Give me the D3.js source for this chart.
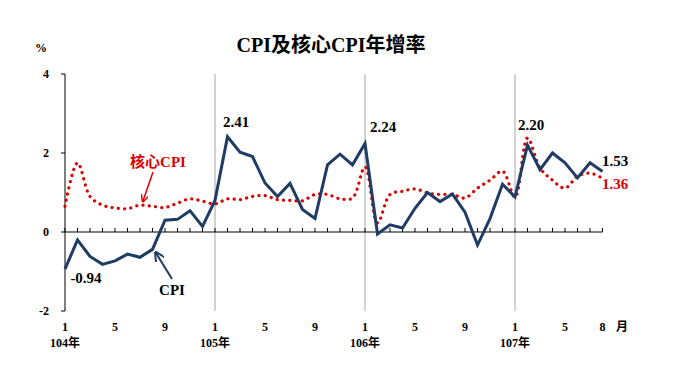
<!DOCTYPE html>
<html>
<head>
<meta charset="utf-8">
<script src="https://cdn.jsdelivr.net/npm/d3@7"></script>
<style>
  body { margin: 0; background: #fff; }
  text { font-family: "Liberation Serif", "Noto Sans CJK TC", serif; font-weight: bold; }
</style>
</head>
<body>
<div id="chart"></div>
<script>
// months 104/1 .. 107/8
var years = ["104年", "105年", "106年", "107年"];
var monthTicks = [1, 5, 9, 13, 17, 21, 25, 29, 33, 37, 41, 44];
var monthLabels = ["1", "5", "9", "1", "5", "9", "1", "5", "9", "1", "5", "8"];

var cpi = [-0.94, -0.20, -0.62, -0.82, -0.73, -0.56, -0.64, -0.44, 0.30, 0.32, 0.54, 0.14,
           0.80, 2.41, 2.02, 1.91, 1.24, 0.90, 1.23, 0.57, 0.34, 1.70, 1.97, 1.70,
           2.24, -0.05, 0.18, 0.10, 0.60, 1.00, 0.77, 0.96, 0.50, -0.33, 0.34, 1.21,
           0.89, 2.20, 1.58, 2.00, 1.75, 1.37, 1.75, 1.53];

var core = [0.65, 1.75, 0.90, 0.68, 0.61, 0.59, 0.68, 0.65, 0.62, 0.73, 0.84, 0.78,
            0.71, 0.84, 0.82, 0.90, 0.92, 0.82, 0.80, 0.79, 0.95, 0.95, 0.84, 0.86,
            1.65, 0.23, 0.95, 1.03, 1.09, 0.99, 0.95, 0.95, 0.86, 1.11, 1.31, 1.54,
            0.88, 2.38, 1.62, 1.31, 1.11, 1.41, 1.49, 1.36];

var yTicks = [-2, 0, 2, 4];

var W = 680, H = 383;
var svg = d3.select("#chart").append("svg")
  .attr("width", W).attr("height", H);

var x = d3.scaleLinear().domain([1, 44]).range([65, 602.5]);
var y = d3.scaleLinear().domain([-2, 4]).range([311, 74]);

// title
svg.append("text")
  .attr("x", 331).attr("y", 52)
  .attr("text-anchor", "middle")
  .style("font-size", "20px")
  .text("CPI及核心CPI年增率");

svg.append("text")
  .attr("x", 41).attr("y", 52)
  .attr("text-anchor", "middle")
  .style("font-size", "12px")
  .text("%");

// year separators
svg.selectAll(".yearline")
  .data([13, 25, 37])
  .enter().append("line")
  .attr("x1", x).attr("x2", x)
  .attr("y1", y(4)).attr("y2", y(-2))
  .style("stroke", "#a6a6a6")
  .style("stroke-width", 1);

// y axis
svg.append("line")
  .attr("x1", x(1)).attr("x2", x(1))
  .attr("y1", y(4)).attr("y2", y(-2))
  .style("stroke", "#000").style("stroke-width", 1);

svg.selectAll(".ytick")
  .data(yTicks)
  .enter().append("line")
  .attr("x1", x(1) - 4).attr("x2", x(1))
  .attr("y1", y).attr("y2", y)
  .style("stroke", "#000");

svg.selectAll(".ylabel")
  .data(yTicks)
  .enter().append("text")
  .attr("x", 49).attr("y", y)
  .attr("dy", "0.35em")
  .attr("text-anchor", "end")
  .style("font-size", "12px")
  .text(function(d) { return d; });

// x axis at 0
svg.append("line")
  .attr("x1", x(1)).attr("x2", x(44))
  .attr("y1", y(0)).attr("y2", y(0))
  .style("stroke", "#000");

svg.selectAll(".xtick")
  .data(d3.range(1, 45))
  .enter().append("line")
  .attr("x1", x).attr("x2", x)
  .attr("y1", y(0)).attr("y2", y(0) - 4)
  .style("stroke", "#000");

svg.selectAll(".xlabel")
  .data(monthTicks)
  .enter().append("text")
  .attr("x", x).attr("y", 331)
  .attr("text-anchor", "middle")
  .style("font-size", "12px")
  .text(function(d, i) { return monthLabels[i]; });

svg.append("text")
  .attr("x", 622).attr("y", 331)
  .attr("text-anchor", "middle")
  .style("font-size", "12px")
  .text("月");

svg.selectAll(".yearlabel")
  .data(years)
  .enter().append("text")
  .attr("x", function(d, i) { return x(1 + i * 12); })
  .attr("y", 347)
  .attr("text-anchor", "middle")
  .style("font-size", "12px")
  .text(function(d) { return d; });

// core CPI (dotted, smoothed)
var coreLine = d3.line()
  .x(function(d, i) { return x(i + 1); })
  .y(function(d) { return y(d); })
  .curve(d3.curveCatmullRom);

svg.append("path")
  .datum(core)
  .attr("d", coreLine)
  .style("fill", "none")
  .style("stroke", "#d90000")
  .style("stroke-width", 3.2)
  .style("stroke-linecap", "round")
  .style("stroke-dasharray", "0.1 6.2");

// CPI
var cpiLine = d3.line()
  .x(function(d, i) { return x(i + 1); })
  .y(function(d) { return y(d); });

svg.append("path")
  .datum(cpi)
  .attr("d", cpiLine)
  .style("fill", "none")
  .style("stroke", "#1f3c64")
  .style("stroke-width", 3)
  .style("stroke-linejoin", "miter");

// value labels
var notes = [
  {t: "-0.94", x: 86, y: 283, c: "#000"},
  {t: "2.41", x: 236, y: 127, c: "#000"},
  {t: "2.24", x: 383, y: 132, c: "#000"},
  {t: "2.20", x: 531, y: 130, c: "#000"},
  {t: "1.53", x: 615, y: 166, c: "#000"},
  {t: "1.36", x: 615, y: 189, c: "#e00000"}
];
svg.selectAll(".note")
  .data(notes)
  .enter().append("text")
  .attr("x", function(d) { return d.x; })
  .attr("y", function(d) { return d.y; })
  .attr("text-anchor", "middle")
  .style("font-size", "15px")
  .style("fill", function(d) { return d.c; })
  .text(function(d) { return d.t; });

// series labels with arrows
var defs = svg.append("defs");
function marker(id, color) {
  defs.append("marker")
    .attr("id", id)
    .attr("viewBox", "0 0 10 10")
    .attr("refX", 8).attr("refY", 5)
    .attr("markerWidth", 5).attr("markerHeight", 5)
    .attr("orient", "auto")
    .append("path")
    .attr("d", "M0,0 L10,5 L0,10")
    .style("fill", "none")
    .style("stroke", color)
    .style("stroke-width", 2);
}
marker("arrRed", "#e00000");
marker("arrBlue", "#1f3c64");

svg.append("text")
  .attr("x", 158).attr("y", 167)
  .attr("text-anchor", "middle")
  .style("font-size", "15px")
  .style("fill", "#e00000")
  .text("核心CPI");

svg.append("line")
  .attr("x1", 153).attr("y1", 172)
  .attr("x2", 143).attr("y2", 201)
  .style("stroke", "#e00000").style("stroke-width", 1.5)
  .attr("marker-end", "url(#arrRed)");

svg.append("text")
  .attr("x", 172).attr("y", 295)
  .attr("text-anchor", "middle")
  .style("font-size", "15px")
  .style("fill", "#000")
  .text("CPI");

svg.append("line")
  .attr("x1", 172).attr("y1", 279)
  .attr("x2", 156).attr("y2", 253)
  .style("stroke", "#1f3c64").style("stroke-width", 2)
  .attr("marker-end", "url(#arrBlue)");
</script>
</body>
</html>
